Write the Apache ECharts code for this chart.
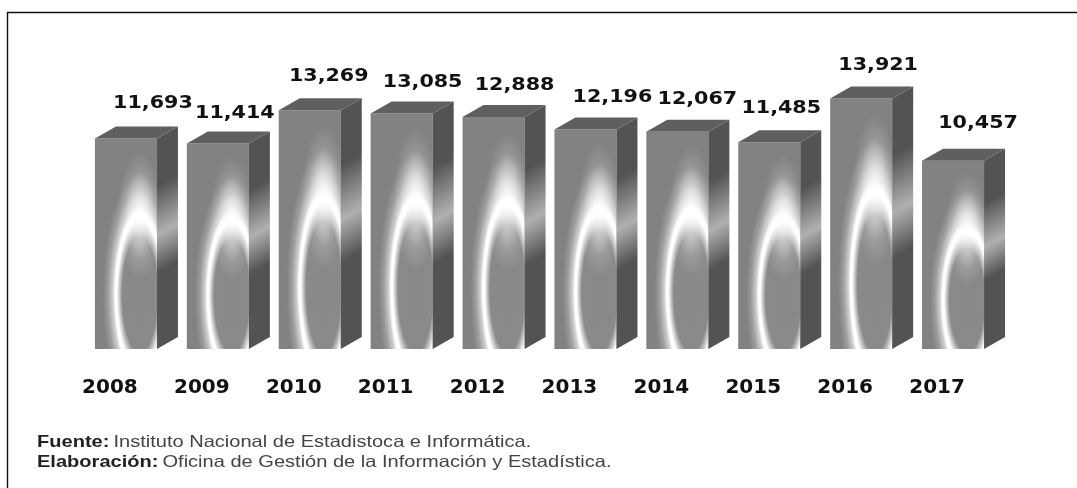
<!DOCTYPE html>
<html><head><meta charset="utf-8">
<style>html,body{margin:0;padding:0;background:#fff}#c{width:1077px;height:488px}</style>
<script src="https://cdn.jsdelivr.net/npm/echarts@6/dist/echarts.min.js"></script>
</head><body><div id="c"></div>
<script>
const years = ['2008','2009','2010','2011','2012','2013','2014','2015','2016','2017'];
const values = [11693,11414,13269,13085,12888,12196,12067,11485,13921,10457];
const labelTexts = ['11,693','11,414','13,269','13,085','12,888','12,196','12,067','11,485','13,921','10,457'];
const labelShiftX = [27,17,19,21,21,27,20,12,17,25];
const labelShiftY = [-35,-30,-34,-31,-32,-32,-32,-34,-33,-37];

const DX = 21, DY = 12;
const chart = echarts.init(document.getElementById('c'), null, {renderer:'canvas'});

function ellipseLayer(xl, yB, w, h, cx, cy, rx, ry, stops){
  const s = ry / rx;
  return {type:'rect', x:xl, y:yB, scaleY:s,
    shape:{x:0, y:-h/s, width:w, height:h/s},
    style:{fill:{type:'radial', x:cx-xl, y:(cy-yB)/s, r:rx, global:true, colorStops:stops}}};
}
const W = a => 'rgba(255,255,255,'+a+')';
const GLOW = [{offset:0,color:W(1)},{offset:0.55,color:W(1)},{offset:0.7,color:W(0.72)},{offset:0.86,color:W(0.22)},{offset:1,color:W(0)}];
const INNER = [{offset:0,color:'rgb(136,136,136)'},{offset:0.66,color:'rgb(138,138,138)'},{offset:0.86,color:'rgb(255,255,255)'},{offset:0.92,color:'rgb(255,255,255)'},{offset:1,color:W(0)}];
const BLOB = [{offset:0,color:W(0.9)},{offset:0.35,color:W(0.55)},{offset:0.7,color:W(0.15)},{offset:1,color:W(0)}];

function renderItem(params, api){
  const i = api.value(0), v = api.value(1);
  const top = api.coord([i, v]), base = api.coord([i, 0]);
  const w = api.size([1,0])[0] * 0.675;
  const xl = top[0] - w/2, xr = xl + w, yT = top[1], yB = base[1], h = yB - yT;
  const cx = xl + 0.725*w, cy = yB - 0.26*h;
  const children = [
    {type:'rect', shape:{x:xl,y:yT,width:w,height:h}, style:{fill:'#828282'}},
    ellipseLayer(xl,yB,w,h,cx,cy,37,0.575*h,GLOW),
    ellipseLayer(xl,yB,w,h,cx,cy,26.7,0.415*h,INNER),
    ellipseLayer(xl,yB,w,h,cx,yB-0.635*h,22,0.30*h,BLOB),
    {type:'polygon', shape:{points:[[xr,yT],[xr+DX,yT-DY],[xr+DX,yB-DY],[xr,yB]]},
     style:{fill:{type:'linear',x:xr,y:yT,x2:xr+0.43*h,y2:yT+0.753*h,global:true,colorStops:[
       {offset:0,color:'#535353'},{offset:0.23,color:'#535353'},{offset:0.46,color:'#b0b0b0'},
       {offset:0.64,color:'#535353'},{offset:1,color:'#535353'}]}}},
    {type:'polygon', shape:{points:[[xl,yT],[xl+DX,yT-DY],[xr+DX,yT-DY],[xr,yT]]},
     style:{fill:'#5f5f5f'}},
    {type:'text', x:top[0]+labelShiftX[i], y:yT+labelShiftY[i], scaleX:1.18,
     style:{text:labelTexts[i],x:0,y:0,align:'center',verticalAlign:'middle',
       font:'bold 17.5px "DejaVu Sans"',fill:'#111'}}
  ];
  return {type:'group',children};
}
chart.setOption({
  animation:false,
  backgroundColor:'#fff',
  grid:{left:80,width:919,top:79,height:270},
  xAxis:{type:'category',data:years,
    axisLine:{show:false},axisTick:{show:false},
    axisLabel:{margin:29,padding:[0,32,0,0],fontFamily:'DejaVu Sans',fontWeight:'bold',fontSize:20,color:'#111'}},
  yAxis:{type:'value',min:0,max:15000,show:false},
  series:[{type:'custom',renderItem,clip:false,
    encode:{x:0,y:1},
    data:values.map((v,i)=>[i,v])}],
  graphic:[
    {type:'polyline',shape:{points:[[7.5,488],[7.5,12.5],[1077,12.5]]},style:{fill:'none',stroke:'#111',lineWidth:1.4}},
    {type:'text',x:37,y:432,scaleX:1.215,style:{x:0,y:0,
      rich:{b:{font:'bold 16.5px "Liberation Sans"',fill:'#222',lineHeight:20},n:{font:'16.5px "Liberation Sans"',fill:'#444',lineHeight:20}},
      text:'{b|Fuente:} {n|Instituto Nacional de Estadistoca e Informática.}\n{b|Elaboración:} {n|Oficina de Gestión de la Información y Estadística.}'}}
  ]
});
</script></body></html>
